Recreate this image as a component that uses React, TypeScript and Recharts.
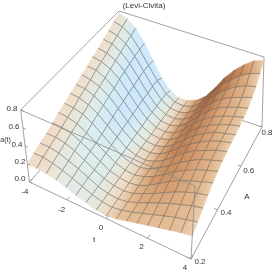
import type { ReactElement } from 'react';
import { Scatter, ScatterChart, XAxis, YAxis } from 'recharts';

const SIZE = 273;

const tValues = [-4, -3.5, -3, -2.5, -2, -1.5, -1, -0.5, 0, 0.5, 1, 1.5, 2, 2.5, 3, 3.5, 4];
const aValues = [
  0.2, 0.2375, 0.275, 0.3125, 0.35, 0.3875, 0.425, 0.4625, 0.5, 0.5375, 0.575, 0.6125, 0.65,
  0.6875, 0.725, 0.7625, 0.8,
];

// a(t), one row per A value, columns follow tValues
const heights = [
  [0.20, 0.20, 0.19, 0.17, 0.14, 0.10, 0.07, 0.04, 0.03, 0.05, 0.08, 0.11, 0.14, 0.17, 0.20, 0.23, 0.25],
  [0.24, 0.24, 0.22, 0.19, 0.15, 0.11, 0.07, 0.04, 0.03, 0.05, 0.08, 0.12, 0.16, 0.20, 0.24, 0.27, 0.30],
  [0.27, 0.27, 0.25, 0.21, 0.17, 0.12, 0.07, 0.04, 0.03, 0.05, 0.09, 0.14, 0.19, 0.24, 0.28, 0.32, 0.35],
  [0.30, 0.30, 0.28, 0.24, 0.18, 0.12, 0.07, 0.04, 0.03, 0.05, 0.10, 0.15, 0.21, 0.27, 0.32, 0.36, 0.39],
  [0.34, 0.33, 0.31, 0.26, 0.20, 0.13, 0.07, 0.04, 0.03, 0.05, 0.10, 0.17, 0.24, 0.30, 0.35, 0.39, 0.43],
  [0.38, 0.37, 0.34, 0.28, 0.21, 0.14, 0.08, 0.04, 0.03, 0.06, 0.11, 0.18, 0.26, 0.32, 0.38, 0.42, 0.46],
  [0.41, 0.40, 0.37, 0.31, 0.23, 0.15, 0.08, 0.04, 0.03, 0.06, 0.12, 0.19, 0.27, 0.34, 0.40, 0.44, 0.48],
  [0.45, 0.44, 0.40, 0.34, 0.25, 0.16, 0.08, 0.04, 0.03, 0.06, 0.12, 0.20, 0.29, 0.36, 0.41, 0.46, 0.49],
  [0.48, 0.47, 0.43, 0.36, 0.27, 0.17, 0.09, 0.04, 0.03, 0.06, 0.13, 0.22, 0.30, 0.37, 0.43, 0.47, 0.50],
  [0.52, 0.50, 0.46, 0.39, 0.29, 0.18, 0.09, 0.04, 0.03, 0.06, 0.13, 0.22, 0.31, 0.38, 0.44, 0.47, 0.50],
  [0.55, 0.54, 0.49, 0.41, 0.30, 0.19, 0.09, 0.04, 0.03, 0.06, 0.13, 0.23, 0.32, 0.39, 0.44, 0.48, 0.51],
  [0.59, 0.57, 0.52, 0.44, 0.32, 0.20, 0.10, 0.04, 0.03, 0.06, 0.14, 0.24, 0.33, 0.40, 0.45, 0.49, 0.52],
  [0.62, 0.60, 0.55, 0.46, 0.33, 0.21, 0.10, 0.04, 0.03, 0.06, 0.14, 0.24, 0.34, 0.42, 0.47, 0.51, 0.54],
  [0.66, 0.64, 0.58, 0.48, 0.35, 0.21, 0.10, 0.04, 0.03, 0.06, 0.14, 0.25, 0.36, 0.44, 0.50, 0.54, 0.58],
  [0.70, 0.67, 0.61, 0.50, 0.36, 0.22, 0.10, 0.04, 0.03, 0.06, 0.14, 0.26, 0.38, 0.47, 0.54, 0.59, 0.62],
  [0.74, 0.71, 0.64, 0.51, 0.36, 0.22, 0.10, 0.04, 0.03, 0.06, 0.14, 0.27, 0.40, 0.50, 0.59, 0.65, 0.69],
  [0.78, 0.74, 0.66, 0.52, 0.35, 0.18, 0.07, 0.02, 0.02, 0.06, 0.14, 0.27, 0.42, 0.54, 0.64, 0.72, 0.76],
];

const tTicks = [-4, -2, 0, 2, 4];
const aTicks = [0.2, 0.4, 0.6, 0.8];
const zTicks = [0, 0.2, 0.4, 0.6, 0.8];

// where the eight box corners land on the page: [t, A, z] as 0/1 -> [x, y]
const corners: Record<string, [number, number]> = {
  '000': [29.5, 182],
  '100': [191, 259],
  '010': [121, 80],
  '110': [262, 127],
  '001': [20.7, 110],
  '101': [195, 186],
  '011': [119, 11],
  '111': [264, 57],
};

// foreshortening along t and A
const warp = (u: number, k: number): number => (k * u) / (1 + (k - 1) * u);

function project(t: number, a: number, z: number): { x: number; y: number } {
  const u = warp((t + 4) / 8, 0.905);
  const v = warp((a - 0.2) / 0.6, 1.185);
  const w = z / 0.8;
  let x = 0;
  let y = 0;
  for (const [key, c] of Object.entries(corners)) {
    const f =
      (key[0] === '1' ? u : 1 - u) * (key[1] === '1' ? v : 1 - v) * (key[2] === '1' ? w : 1 - w);
    x += f * c[0];
    y += f * c[1];
  }
  return { x, y };
}

// surface colour against steepness along t, blue going down, brown going up
const stops: [number, number[]][] = [
  [-0.13, [205, 233, 251]],
  [-0.09, [220, 238, 238]],
  [-0.05, [230, 233, 222]],
  [-0.02, [238, 222, 204]],
  [0, [240, 220, 198]],
  [0.03, [228, 188, 148]],
  [0.06, [212, 156, 110]],
  [0.09, [189, 125, 80]],
  [0.13, [156, 92, 54]],
];

function shade(s: number): string {
  if (s <= stops[0][0]) return `rgb(${stops[0][1].join(',')})`;
  for (let i = 1; i < stops.length; i++) {
    if (s <= stops[i][0]) {
      const f = (s - stops[i - 1][0]) / (stops[i][0] - stops[i - 1][0]);
      const c = stops[i][1].map((v, n) => Math.round(stops[i - 1][1][n] + f * (v - stops[i - 1][1][n])));
      return `rgb(${c.join(',')})`;
    }
  }
  return `rgb(${stops[stops.length - 1][1].join(',')})`;
}

function vertexColour(i: number, j: number): string {
  const row = heights[j];
  const lo = Math.max(i - 1, 0);
  const hi = Math.min(i + 1, 16);
  let s = (row[hi] - row[lo]) / 2;
  if (s < 0) s *= 0.9 + (0.25 * 0.8) / aValues[j];
  return shade(s);
}

const noDot = (): ReactElement => <g />;

const MESH = '#62625e';
const BOX = '#8a8a8a';
const labelFont = { fontFamily: 'Liberation Sans', fontSize: 8, fill: '#333' };

function Cell(i: number, j: number): ReactElement {
  const data = [
    project(tValues[i], aValues[j], heights[j][i]),
    project(tValues[i + 1], aValues[j], heights[j][i + 1]),
    project(tValues[i + 1], aValues[j + 1], heights[j + 1][i + 1]),
    project(tValues[i], aValues[j + 1], heights[j + 1][i]),
  ];
  const id = `g${i}-${j}`;
  const renderCell = (props: { points?: { x: number; y: number }[] }): ReactElement => {
    const pts = props.points ?? [];
    const [p0, p1, p2, p3] = pts;
    const edges: string[] = [];
    if (j > 0) edges.push(`M${p0.x},${p0.y}L${p1.x},${p1.y}`);
    if (i < 15) edges.push(`M${p1.x},${p1.y}L${p2.x},${p2.y}`);
    if (j < 15) edges.push(`M${p2.x},${p2.y}L${p3.x},${p3.y}`);
    if (i > 0) edges.push(`M${p3.x},${p3.y}L${p0.x},${p0.y}`);
    return (
      <g>
        <linearGradient
          id={id}
          gradientUnits="userSpaceOnUse"
          x1={(p0.x + p3.x) / 2}
          y1={(p0.y + p3.y) / 2}
          x2={(p1.x + p2.x) / 2}
          y2={(p1.y + p2.y) / 2}
        >
          <stop offset="0" stopColor={vertexColour(i, j)} />
          <stop offset="1" stopColor={vertexColour(i + 1, j)} />
        </linearGradient>
        <polygon
          points={pts.map((p) => `${p.x},${p.y}`).join(' ')}
          fill={`url(#${id})`}
          stroke={`url(#${id})`}
          strokeWidth={0.4}
        />
        <path d={edges.join('')} fill="none" stroke={MESH} strokeWidth={0.65} strokeOpacity={0.75} />
      </g>
    );
  };
  return (
    <Scatter
      key={`c${i}-${j}`}
      data={data}
      shape={noDot}
      line={renderCell}
      isAnimationActive={false}
    />
  );
}

function Edge(from: number[], to: number[], key: string): ReactElement {
  return (
    <Scatter
      key={key}
      data={[project(from[0], from[1], from[2]), project(to[0], to[1], to[2])]}
      shape={noDot}
      line={{ stroke: BOX, strokeWidth: 0.8 }}
      isAnimationActive={false}
    />
  );
}

function Label(text: string, x: number, y: number, extra?: object): ReactElement {
  const renderText = (props: { cx?: number; cy?: number }): ReactElement => (
    <text x={props.cx} y={props.cy} textAnchor="middle" dominantBaseline="central" {...labelFont} {...extra}>
      {text}
    </text>
  );
  return (
    <Scatter key={`l${text}${x}`} data={[{ x, y }]} shape={renderText} isAnimationActive={false} />
  );
}

export default function App(): ReactElement {
  const cells: ReactElement[] = [];
  for (let j = 15; j >= 0; j--) {
    for (let i = 0; i < 16; i++) cells.push(Cell(i, j));
  }

  return (
    <div
      style={{
        position: 'fixed',
        left: 0,
        top: 0,
        width: SIZE,
        height: SIZE,
        background: '#fff',
        filter: 'blur(0.3px)',
      }}
    >
      <ScatterChart width={SIZE} height={SIZE} margin={{ top: 0, right: 0, bottom: 0, left: 0 }}>
        <XAxis type="number" dataKey="x" domain={[0, SIZE]} hide />
        <YAxis type="number" dataKey="y" domain={[0, SIZE]} reversed hide />

        {Edge([-4, 0.8, 0], [-4, 0.2, 0], 'bb1')}
        {Edge([-4, 0.8, 0], [4, 0.8, 0], 'bb2')}
        {Edge([-4, 0.8, 0.8], [-4, 0.2, 0.8], 'bt1')}
        {Edge([-4, 0.8, 0.8], [4, 0.8, 0.8], 'bt2')}
        {Edge([-4, 0.2, 0], [-4, 0.2, 0.8], 'v1')}
        {Edge([4, 0.8, 0], [4, 0.8, 0.8], 'v2')}

        {cells}

        {Edge([-4, 0.2, 0.8], [4, 0.2, 0.8], 'f1')}
        {Edge([4, 0.2, 0], [4, 0.2, 0.8], 'f2')}
        {Edge([-4, 0.2, 0], [4, 0.2, 0], 'f3')}
        {Edge([4, 0.2, 0], [4, 0.8, 0], 'f4')}

        {tTicks.map((t) => Edge([t, 0.2, 0], [t, 0.215, 0], `tt${t}`))}
        {aTicks.map((a) => Edge([4, a, 0], [3.85, a, 0], `at${a}`))}
        {zTicks.map((z) => Edge([-4, 0.2, z], [-3.85, 0.2, z], `zt${z}`))}

        {Label('(Levi-Civita)', 144, 5.5)}
        {Label('-4', 25, 191)}
        {Label('-2', 61.7, 209)}
        {Label('0', 101, 227)}
        {Label('2', 141.5, 246)}
        {Label('4', 185, 267)}
        {Label('t', 94, 239)}
        {Label('0.2', 200, 261)}
        {Label('0.4', 226, 212.6)}
        {Label('0.6', 248.7, 170)}
        {Label('0.8', 267, 132)}
        {Label('A', 247, 196)}
        {Label('0.0', 20, 178)}
        {Label('0.2', 20, 161)}
        {Label('0.4', 17, 144)}
        {Label('0.6', 14, 126)}
        {Label('0.8', 12, 108)}
        {Label('a(t)', 5.5, 139, { fontSize: 7 })}
      </ScatterChart>
    </div>
  );
}
